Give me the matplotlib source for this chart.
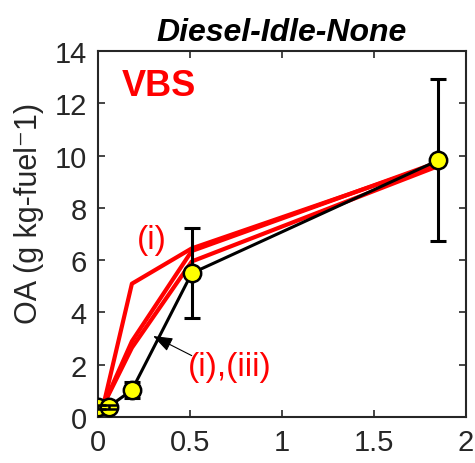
import matplotlib
matplotlib.use('Agg')
import matplotlib.pyplot as plt

plt.rcParams['font.family'] = ['Liberation Sans', 'DejaVu Sans']

# measured points (black line, yellow markers)
obs_x = [0.0, 0.06, 0.185, 0.51, 1.85]
obs_y = [0.40, 0.40, 1.03, 5.50, 9.82]
obs_err = [0.08, 0.08, 0.30, 1.72, 3.10]

# VBS model runs (red)
vbs_x = [0.03, 0.185, 0.51, 1.85]
vbs_i = [0.45, 5.10, 6.45, 9.70]
vbs_b = [0.45, 2.90, 6.35, 9.75]
vbs_c = [0.45, 2.65, 5.95, 9.60]

fig = plt.figure(figsize=(4.75, 4.64), dpi=100)
ax = fig.add_axes([0.206, 0.099, 0.775, 0.789])

for ys in (vbs_i, vbs_b, vbs_c):
    ax.plot(vbs_x, ys, color='red', lw=3.0, zorder=2)

ax.errorbar(obs_x[2:], obs_y[2:], yerr=obs_err[2:], fmt='none', ecolor='black',
            elinewidth=2.2, capsize=6, capthick=2.2, zorder=3)
ax.plot(obs_x, obs_y, color='black', lw=2.2, marker='o', markersize=12.5,
        markerfacecolor='yellow', markeredgecolor='black', markeredgewidth=1.8, zorder=4)
# small bars on the first two points sit on top of the markers
ax.errorbar(obs_x[:2], obs_y[:2], yerr=obs_err[:2], fmt='none', ecolor='black',
            elinewidth=1.8, capsize=6, capthick=1.8, zorder=5)

ax.text(0.13, 12.3, 'VBS', color='red', fontsize=26, fontweight='bold')
ax.text(0.21, 6.8, '(i)', color='red', fontsize=24, va='center')
ax.text(0.49, 1.95, '(i),(iii)', color='red', fontsize=24, va='center', ha='left')
ax.annotate('', xy=(0.3, 3.1), xytext=(0.51, 2.35),
            arrowprops=dict(arrowstyle='-|>,head_length=0.6,head_width=0.22', color='black',
                            lw=0.8, shrinkA=0, shrinkB=0, mutation_scale=20), zorder=6)

ax.set_xlim(0, 2)
ax.set_ylim(0, 14)
ax.set_xticks([0, 0.5, 1, 1.5, 2])
ax.set_xticklabels(['0', '0.5', '1', '1.5', '2'])
ax.set_yticks(range(0, 15, 2))
ax.tick_params(direction='in', length=5, width=1.2, top=True, right=True,
               labelsize=21, colors='#262626', pad=8)
for s in ax.spines.values():
    s.set_linewidth(1.5)
    s.set_color('#262626')

ax.set_ylabel('OA (g kg-fuel\u207b1)', fontsize=22, color='#262626')
ax.yaxis.set_label_coords(-0.145, 0.56)
ax.set_title('Diesel-Idle-None', fontsize=23, fontweight='bold', style='italic', pad=8)

fig.savefig('out.png', dpi=100)
